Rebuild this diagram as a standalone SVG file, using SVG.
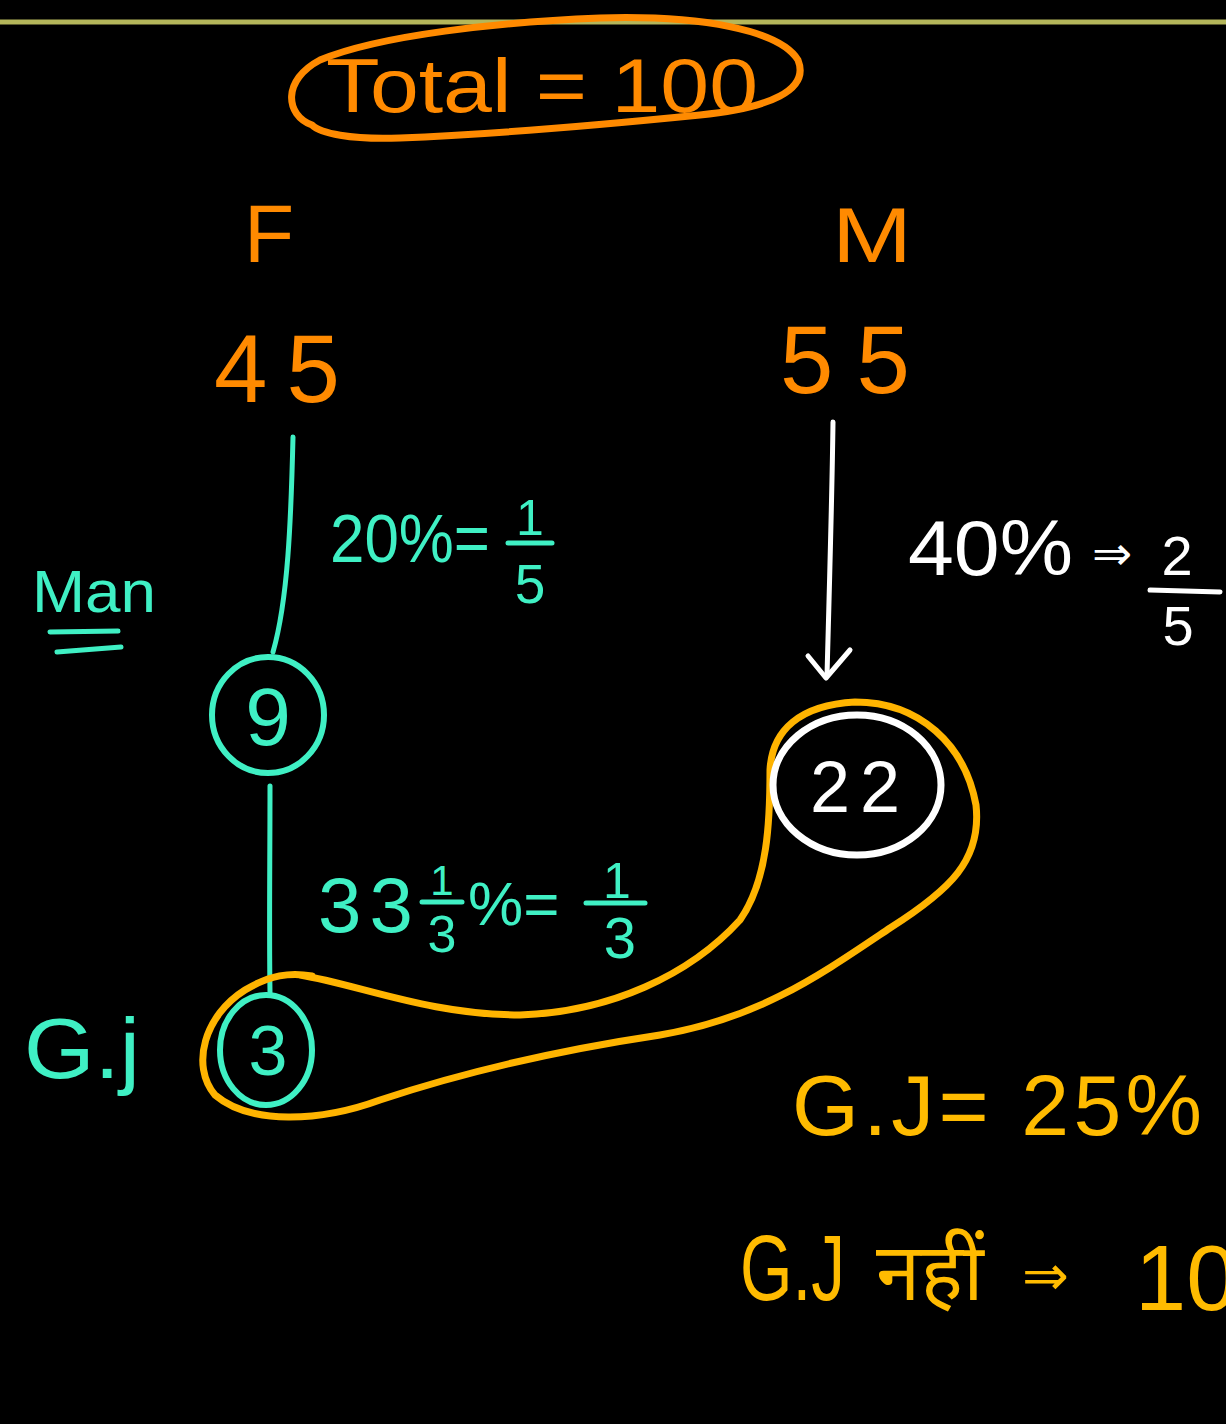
<svg xmlns="http://www.w3.org/2000/svg" width="1226" height="1424" viewBox="0 0 1226 1424">
<style>
.t{font-family:"Liberation Sans","DejaVu Sans",sans-serif;}
.or{fill:#ff8a00;}
.tl{fill:#3ff0c4;}
.wh{fill:#ffffff;}
.yl{fill:#ffbb00;}
.s{fill:none;stroke-linecap:round;stroke-linejoin:round;}
.so{stroke:#ff8a00;}
.st{stroke:#3ff0c4;}
.sw{stroke:#ffffff;}
.sy{stroke:#ffb400;}
</style>
<rect x="0" y="0" width="1226" height="1424" fill="#000000"/>
<line x1="0" y1="22" x2="1226" y2="22" stroke="#b4b65a" stroke-width="5"/>

<g id="node-total">
<path class="s so" stroke-width="7" d="M312,125 C285,115 282,80 320,60 C380,35 500,22 600,18 C700,15 780,30 798,60 C810,90 770,108 700,115 C600,125 480,135 400,138 C350,140 320,133 312,125 Z"/>
<text class="t or" x="326" y="112" font-size="76" textLength="432" lengthAdjust="spacingAndGlyphs">Total = 100</text>
</g>

<g id="node-f"><text class="t or" x="244" y="262" font-size="82">F</text></g>
<g id="node-m"><text class="t or" x="832" y="262" font-size="78" textLength="80" lengthAdjust="spacingAndGlyphs">M</text></g>
<g id="node-45"><text class="t or" x="214" y="402" font-size="96" textLength="126" lengthAdjust="spacing">45</text></g>
<g id="node-55"><text class="t or" x="780" y="393" font-size="96" textLength="130" lengthAdjust="spacing">55</text></g>

<g id="connectors">
<path class="s st" stroke-width="5" d="M293,437 C291,520 288,600 273,652"/>
<path class="s st" stroke-width="5" d="M270,786 C270,860 269,930 270,992"/>
<path class="s sw" stroke-width="5" d="M833,422 C832,500 829,600 827,676"/>
<path class="s sw" stroke-width="5" d="M808,656 L826,678 L850,650"/>
<path class="s sy" stroke-width="7" d="M300,975 C360,985 430,1015 520,1015 C610,1012 690,975 740,920 C768,880 770,820 770,770 C772,730 800,705 855,702 C920,702 965,745 976,805 C982,860 950,890 890,928 C820,975 760,1018 660,1035 C560,1050 470,1070 380,1100 C320,1122 250,1125 215,1095 C190,1065 205,1015 245,990 C270,975 290,972 312,976"/>
</g>

<g id="node-9">
<ellipse class="s st" stroke-width="6" cx="268" cy="715" rx="56" ry="58"/>
<text class="t tl" x="268" y="745" font-size="82" text-anchor="middle">9</text>
</g>

<g id="node-3">
<ellipse class="s st" stroke-width="6" cx="266" cy="1050" rx="46" ry="55"/>
<text class="t tl" x="268" y="1075" font-size="70" text-anchor="middle">3</text>
</g>

<g id="node-22">
<ellipse class="s sw" stroke-width="7" cx="857" cy="785" rx="84" ry="70"/>
<text class="t wh" x="855" y="812" font-size="72" text-anchor="middle" textLength="90" lengthAdjust="spacing">22</text>
</g>

<g id="label-20">
<text class="t tl" x="330" y="562" font-size="68" textLength="160" lengthAdjust="spacingAndGlyphs">20%=</text>
<text class="t tl" x="530" y="535" font-size="50" text-anchor="middle">1</text>
<line x1="508" y1="543" x2="552" y2="543" stroke="#3ff0c4" stroke-width="5" stroke-linecap="round"/>
<text class="t tl" x="530" y="603" font-size="55" text-anchor="middle">5</text>
</g>

<g id="label-man">
<text class="t tl" x="32" y="612" font-size="60" textLength="124" lengthAdjust="spacingAndGlyphs">Man</text>
<path class="s st" stroke-width="5" d="M50,632 L118,631 M57,652 L121,647"/>
</g>

<g id="label-33">
<text class="t tl" x="318" y="932" font-size="78" textLength="95" lengthAdjust="spacing">33</text>
<text class="t tl" x="442" y="895" font-size="42" text-anchor="middle">1</text>
<line x1="422" y1="902" x2="462" y2="902" stroke="#3ff0c4" stroke-width="5" stroke-linecap="round"/>
<text class="t tl" x="442" y="952" font-size="52" text-anchor="middle">3</text>
<text class="t tl" x="468" y="925" font-size="62">%=</text>
<text class="t tl" x="617" y="898" font-size="50" text-anchor="middle">1</text>
<line x1="586" y1="903" x2="645" y2="903" stroke="#3ff0c4" stroke-width="5" stroke-linecap="round"/>
<text class="t tl" x="620" y="958" font-size="58" text-anchor="middle">3</text>
</g>

<g id="label-gj-left">
<text class="t tl" x="24" y="1078" font-size="86" textLength="116" lengthAdjust="spacingAndGlyphs">G.j</text>
</g>

<g id="label-40">
<text class="t wh" x="908" y="575" font-size="78" textLength="165" lengthAdjust="spacingAndGlyphs">40%</text>
<text class="t wh" x="1092" y="570" font-size="48" font-family="DejaVu Sans">⇒</text>
<text class="t wh" x="1177" y="575" font-size="56" text-anchor="middle">2</text>
<line x1="1150" y1="590" x2="1220" y2="592" stroke="#ffffff" stroke-width="5" stroke-linecap="round"/>
<text class="t wh" x="1178" y="645" font-size="56" text-anchor="middle">5</text>
</g>

<g id="label-gj25">
<text class="t yl" x="792" y="1135" font-size="86" textLength="410" lengthAdjust="spacing">G.J= 25%</text>
</g>

<g id="label-gjnahi">
<text class="t yl" x="740" y="1300" font-size="92" textLength="105" lengthAdjust="spacingAndGlyphs">G.J</text>
<text class="yl" x="876" y="1300" font-size="80" font-family="'Noto Sans Devanagari','Noto Sans','DejaVu Sans',sans-serif">नहीं</text>
<text class="t yl" x="1022" y="1295" font-size="56" font-family="DejaVu Sans">⇒</text>
<text class="t yl" x="1135" y="1310" font-size="92">100</text>
</g>
</svg>
